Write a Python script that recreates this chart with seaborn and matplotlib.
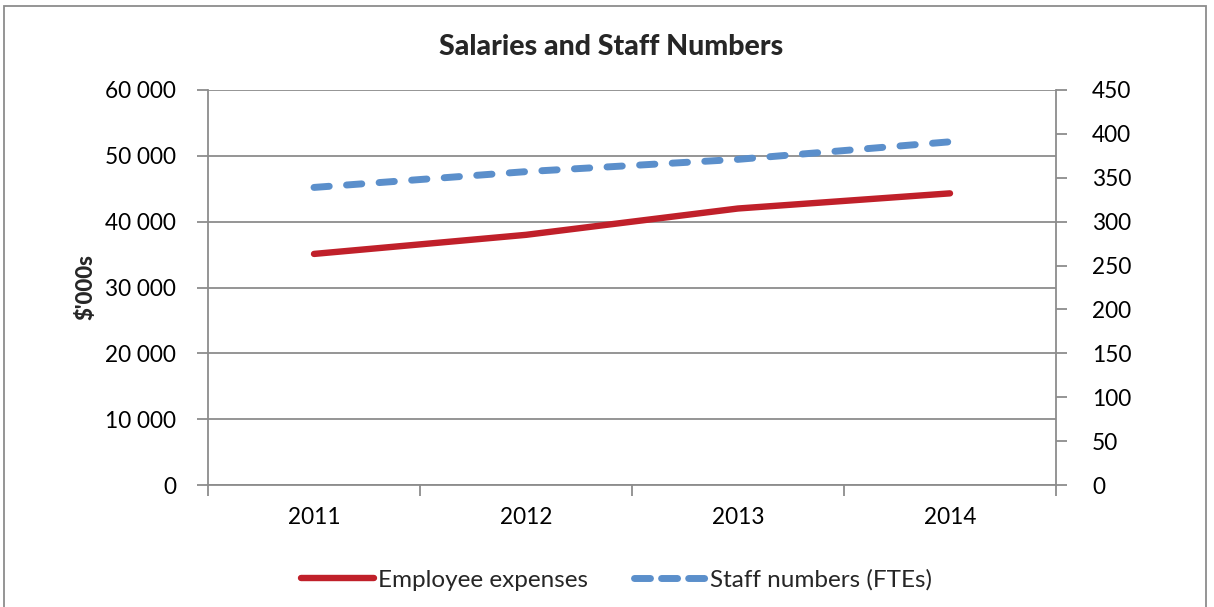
import matplotlib
matplotlib.use("Agg")
import matplotlib.pyplot as plt
from matplotlib.lines import Line2D
from matplotlib.patches import Rectangle
from matplotlib.ticker import FuncFormatter, MultipleLocator
import seaborn as sns
import pandas as pd

years = ["2011", "2012", "2013", "2014"]
employee_expenses = [35100, 38000, 42000, 44300]   # $'000s
staff_numbers = [339, 357, 371, 391]               # FTEs

sns.set_theme(style="white")
plt.rcParams["font.family"] = ["Lato", "DejaVu Sans"]

RED = "#C0202A"
BLUE = "#5B8FCB"
GRID = "#8C8C8C"
RED_LW = 4.6
BLUE_LW = 5.0

df = pd.DataFrame({"year": years, "expenses": employee_expenses, "staff": staff_numbers})

fig = plt.figure(figsize=(12.14, 6.07), dpi=100)
ax = fig.add_axes([208 / 1214, 1 - 485 / 607, (1056 - 208) / 1214, (485 - 90) / 607])
ax2 = ax.twinx()

sns.lineplot(data=df, x="year", y="expenses", ax=ax, color=RED, linewidth=RED_LW,
             solid_capstyle="round", sort=False)
sns.lineplot(data=df, x="year", y="staff", ax=ax2, color=BLUE, linewidth=BLUE_LW,
             sort=False)
for ln in ax2.get_lines():
    ln.set_dashes([2.2, 2.5])
    ln.set_dash_capstyle("round")

# Left axis
ax.set_ylim(0, 60000)
ax.yaxis.set_major_locator(MultipleLocator(10000))
ax.yaxis.set_major_formatter(FuncFormatter(lambda v, p: f"{int(v):,}".replace(",", " ")))
ax.set_ylabel("$'000s", fontsize=16, fontweight="black", labelpad=6)
ax.grid(axis="y", color=GRID, linewidth=1.3)
ax.set_axisbelow(True)

# Right axis
ax2.set_ylim(0, 450)
ax2.yaxis.set_major_locator(MultipleLocator(50))
ax2.set_ylabel("")

# Category x axis: labels at centres, tick marks at boundaries
ax.set_xlim(-0.5, len(years) - 0.5)
ax.set_xticks([i for i in range(len(years))])
ax.set_xticklabels(years)
ax.set_xticks([i - 0.5 for i in range(len(years) + 1)], minor=True)
ax.set_xlabel("")

for a in (ax, ax2):
    for s in a.spines.values():
        s.set_visible(False)
ax.spines["left"].set_visible(True)
ax.spines["bottom"].set_visible(True)
ax2.spines["right"].set_visible(True)
for s in (ax.spines["left"], ax.spines["bottom"], ax2.spines["right"]):
    s.set_color(GRID)
    s.set_linewidth(1.3)

ax.tick_params(axis="y", which="major", direction="out", length=8, width=1.3,
               color=GRID, labelsize=16.3, pad=15, left=True, labelcolor="black")
ax.tick_params(axis="x", which="major", length=0, labelsize=16.3, pad=16, labelcolor="black")
ax.tick_params(axis="x", which="minor", direction="out", length=8, width=1.3,
               color=GRID, bottom=True)
ax2.tick_params(axis="y", direction="out", length=8, width=1.3, color=GRID,
                labelsize=16.3, pad=18, right=True, labelcolor="black")

fig.text(0.503, 1 - 47 / 607, "Salaries and Staff Numbers", ha="center", va="center",
         fontsize=20.5, fontweight="black")

handles = [
    Line2D([], [], color=RED, linewidth=RED_LW, solid_capstyle="round"),
    Line2D([], [], color=BLUE, linewidth=BLUE_LW, dashes=[2.3, 1.6], dash_capstyle="round"),
]
fig.legend(handles, ["Employee expenses", "Staff numbers (FTEs)"], loc="center",
           bbox_to_anchor=(0.508, 1 - 580 / 607), ncol=2, frameon=False,
           fontsize=17.5, handlelength=3.0, handletextpad=0.15, columnspacing=1.9)

fig.patches.append(Rectangle((4 / 1214, -0.05), 1202 / 1214, 1.05 - 6 / 607,
                             transform=fig.transFigure, fill=False,
                             edgecolor="#8C8C8C", linewidth=1.3))

fig.savefig("out.png", dpi=100)
